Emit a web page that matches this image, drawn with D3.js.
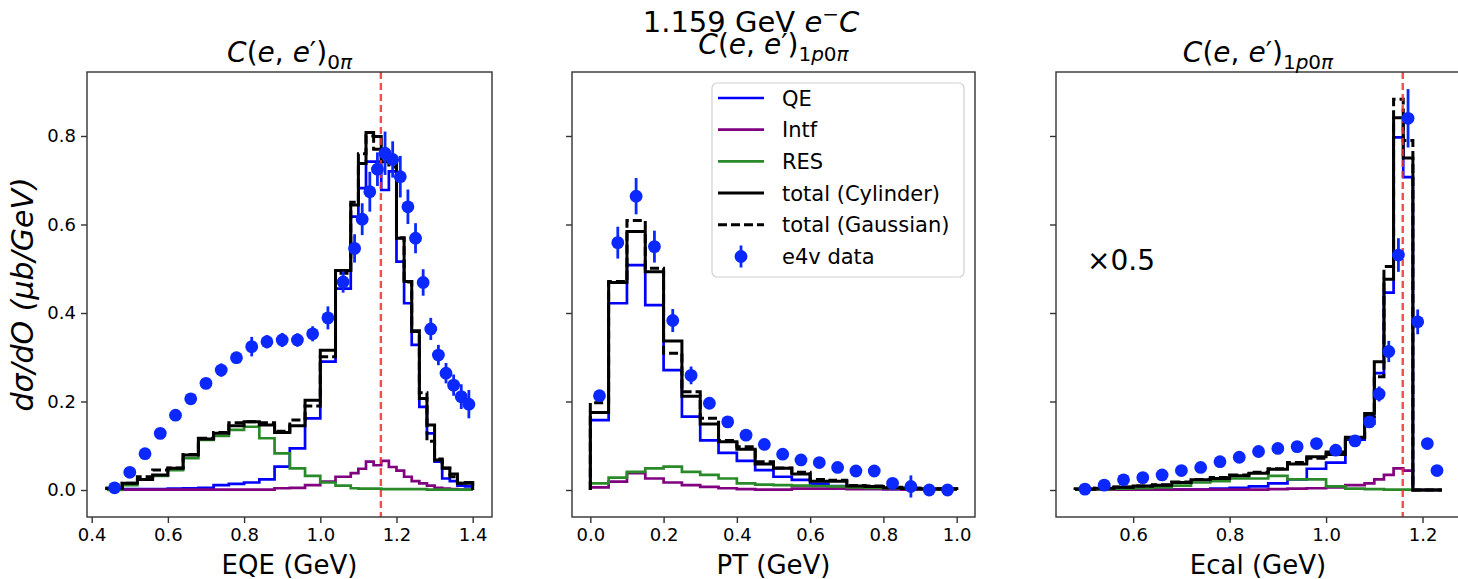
<!DOCTYPE html>
<html><head><meta charset="utf-8">
<script src="https://cdn.jsdelivr.net/npm/d3@7"></script>
<style>body{margin:0;background:#fff} svg{display:block} text{font-family:"DejaVu Sans",sans-serif;fill:#000}</style>
</head><body><svg id="c" width="1458" height="579"></svg>
<script>
// ---------- EQE panel ----------
const eqeEdges = [0.44,0.48,0.52,0.56,0.60,0.64,0.68,0.72,0.76,0.80,0.84,0.88,0.92,0.96,1.00,1.04,1.08,1.10,1.12,1.14,1.16,1.18,1.20,1.22,1.24,1.26,1.28,1.30,1.32,1.34,1.36,1.38,1.40];
const eqeQE   = [0.002,0.002,0.002,0.002,0.003,0.004,0.005,0.011,0.014,0.017,0.024,0.053,0.094,0.162,0.290,0.455,0.618,0.682,0.742,0.742,0.678,0.720,0.516,0.422,0.328,0.188,0.128,0.064,0.026,0.020,0.010,0.008];
const eqeIntf = [0.001,0.001,0.001,0.001,0.001,0.001,0.001,0.001,0.001,0.001,0.001,0.004,0.005,0.011,0.019,0.030,0.038,0.048,0.064,0.056,0.066,0.052,0.044,0.030,0.020,0.015,0.010,0.005,0.003,0.002,0.001,0.001];
const eqeRES  = [0.000,0.011,0.024,0.032,0.045,0.072,0.113,0.122,0.136,0.143,0.117,0.083,0.049,0.032,0.017,0.010,0.004,0.003,0.003,0.003,0.002,0.002,0.002,0.002,0.002,0.002,0.001,0.001,0.001,0.001,0.001,0.001];
const eqeCyl  = [0.004,0.015,0.024,0.034,0.049,0.079,0.115,0.128,0.145,0.154,0.147,0.130,0.145,0.203,0.316,0.496,0.644,0.738,0.808,0.799,0.742,0.744,0.569,0.471,0.358,0.207,0.147,0.068,0.049,0.036,0.015,0.017];
const eqeGau  = [0.004,0.015,0.030,0.045,0.050,0.080,0.117,0.130,0.152,0.154,0.152,0.133,0.158,0.190,0.301,0.490,0.650,0.760,0.800,0.770,0.750,0.730,0.570,0.470,0.360,0.220,0.110,0.070,0.050,0.030,0.015,0.015];
const eqeX    = [0.46,0.50,0.54,0.58,0.62,0.66,0.70,0.74,0.78,0.82,0.86,0.90,0.94,0.98,1.02,1.06,1.09,1.11,1.13,1.15,1.17,1.19,1.21,1.23,1.25,1.27,1.29,1.31,1.33,1.35,1.37,1.39];
const eqeData = [0.005,0.040,0.082,0.128,0.169,0.206,0.241,0.271,0.299,0.324,0.335,0.339,0.339,0.353,0.389,0.470,0.546,0.612,0.674,0.725,0.761,0.747,0.708,0.640,0.569,0.469,0.364,0.305,0.264,0.237,0.211,0.194];
const eqeErr  = [0.004,0.005,0.006,0.007,0.008,0.009,0.011,0.015,0.013,0.022,0.015,0.016,0.015,0.017,0.026,0.024,0.032,0.036,0.045,0.038,0.049,0.041,0.047,0.039,0.034,0.030,0.025,0.023,0.023,0.024,0.028,0.032];

// ---------- PT panel ----------
const ptEdges = [0.00,0.05,0.10,0.15,0.20,0.25,0.30,0.35,0.40,0.45,0.50,0.55,0.60,0.65,0.70,0.75,0.80,0.85,0.90,0.95,1.00];
const ptQE    = [0.158,0.422,0.508,0.418,0.271,0.166,0.112,0.084,0.066,0.045,0.030,0.023,0.014,0.009,0.004,0.003,0.002,0.002,0.001,0.001];
const ptIntf  = [0.006,0.019,0.038,0.026,0.017,0.011,0.007,0.004,0.002,0.001,0.001,0.003,0.003,0.003,0.002,0.002,0.002,0.001,0.001,0.001];
const ptRES   = [0.015,0.028,0.041,0.049,0.053,0.041,0.034,0.026,0.015,0.012,0.011,0.010,0.009,0.008,0.006,0.005,0.004,0.003,0.002,0.002];
const ptCyl   = [0.175,0.469,0.584,0.493,0.337,0.212,0.149,0.109,0.092,0.059,0.049,0.036,0.020,0.020,0.009,0.008,0.005,0.004,0.003,0.003];
const ptGau   = [0.197,0.471,0.609,0.501,0.309,0.222,0.162,0.112,0.098,0.064,0.050,0.040,0.024,0.022,0.010,0.009,0.006,0.004,0.003,0.003];
const ptX     = [0.025,0.075,0.125,0.175,0.225,0.275,0.325,0.375,0.425,0.475,0.525,0.575,0.625,0.675,0.725,0.775,0.825,0.875,0.925,0.975];
const ptData  = [0.213,0.559,0.664,0.550,0.383,0.259,0.196,0.154,0.124,0.103,0.081,0.068,0.062,0.051,0.043,0.043,0.015,0.008,0.000,0.000];
const ptErr   = [0.012,0.036,0.041,0.036,0.026,0.020,0.013,0.010,0.008,0.007,0.006,0.006,0.006,0.006,0.006,0.006,0.008,0.025,0.005,0.005];

// ---------- Ecal panel ----------
const ecalEdges = [0.48,0.52,0.56,0.60,0.64,0.68,0.72,0.76,0.80,0.84,0.88,0.92,0.96,1.00,1.04,1.08,1.10,1.12,1.14,1.16,1.18,1.20,1.22,1.24];
const ecalQE    = [0.001,0.001,0.001,0.001,0.001,0.001,0.001,0.003,0.005,0.008,0.015,0.024,0.048,0.062,0.114,0.150,0.264,0.446,0.797,0.707,0,0,0];
const ecalIntf  = [0.001,0.001,0.001,0.001,0.001,0.001,0.001,0.001,0.001,0.001,0.002,0.003,0.004,0.006,0.011,0.015,0.024,0.034,0.049,0.044,0,0,0];
const ecalRES   = [0.001,0.002,0.003,0.004,0.006,0.010,0.017,0.020,0.026,0.026,0.032,0.024,0.024,0.008,0.003,0.002,0.002,0.001,0.001,0.001,0,0,0];
const ecalCyl   = [0.002,0.004,0.006,0.009,0.011,0.017,0.023,0.026,0.032,0.038,0.047,0.059,0.075,0.080,0.119,0.173,0.290,0.476,0.841,0.750,0,0,0];
const ecalGau   = [0.002,0.004,0.007,0.009,0.012,0.018,0.024,0.028,0.034,0.040,0.048,0.062,0.072,0.086,0.118,0.166,0.256,0.505,0.883,0.790,0,0,0];
const ecalX     = [0.50,0.54,0.58,0.62,0.66,0.70,0.74,0.78,0.82,0.86,0.90,0.94,0.98,1.02,1.06,1.09,1.11,1.13,1.15,1.17,1.19,1.21,1.23];
const ecalData  = [0.002,0.011,0.023,0.028,0.034,0.044,0.051,0.064,0.074,0.087,0.094,0.098,0.105,0.090,0.111,0.154,0.217,0.313,0.531,0.840,0.380,0.105,0.044];
const ecalErr   = [0.004,0.004,0.004,0.005,0.005,0.005,0.005,0.006,0.006,0.006,0.006,0.006,0.007,0.008,0.008,0.012,0.017,0.024,0.038,0.066,0.028,0.006,0.005];

const yTicks = [0.0,0.2,0.4,0.6,0.8];
const eqeTicks = [0.4,0.6,0.8,1.0,1.2,1.4];
const ptTicks = [0.0,0.2,0.4,0.6,0.8,1.0];
const ecalTicks = [0.6,0.8,1.0,1.2];
const beamE = 1.159;
const legendLabels = ["QE","Intf","RES","total (Cylinder)","total (Gaussian)","e4v data"];

const C = {qe:"#0000ff", intf:"#800080", res:"#2a8a2a", tot:"#000000", data:"#0a28ff", ref:"#f03030"};

const svg = d3.select("#c");
const Y0 = 72, Y1 = 517;
const y = d3.scaleLinear().domain([-0.061, 0.9446]).range([Y1, Y0]);
const f1 = d3.format(".1f");

const panels = [
  {x0:87,  x1:492,  dom:[0.3877,1.4507], ticks:eqeTicks,  label:"EQE (GeV)",  edges:eqeEdges,  qe:eqeQE,  intf:eqeIntf,  res:eqeRES,  cyl:eqeCyl,  gau:eqeGau,  dx:eqeX,  dv:eqeData,  de:eqeErr,  ref:true,  yl:true,  sub:[["0",0],["π",1]], tY:62},
  {x0:572, x1:975,  dom:[-0.05,1.05],   ticks:ptTicks,   label:"PT (GeV)",   edges:ptEdges,   qe:ptQE,   intf:ptIntf,   res:ptRES,   cyl:ptCyl,   gau:ptGau,   dx:ptX,   dv:ptData,   de:ptErr,   ref:false, yl:false, sub:[["1",0],["p",1],["0",0],["π",1]], tY:54},
  {x0:1056,x1:1460, dom:[0.44,1.2777],  ticks:ecalTicks, label:"Ecal (GeV)", edges:ecalEdges, qe:ecalQE, intf:ecalIntf, res:ecalRES, cyl:ecalCyl, gau:ecalGau, dx:ecalX, dv:ecalData, de:ecalErr, ref:true,  yl:false, sub:[["1",0],["p",1],["0",0],["π",1]], tY:62}
];

function stepPts(edges, vals){
  const pts = [[edges[0],0]];
  vals.forEach((v,i)=>{ pts.push([edges[i],v]); pts.push([edges[i+1],v]); });
  pts.push([edges[edges.length-1],0]);
  return pts;
}

panels.forEach((p,pi)=>{
  const x = d3.scaleLinear().domain(p.dom).range([p.x0,p.x1]);
  const g = svg.append("g");
  const clipId = "clip"+pi;
  svg.append("clipPath").attr("id",clipId).append("rect").attr("x",p.x0).attr("y",Y0).attr("width",p.x1-p.x0).attr("height",Y1-Y0);
  const plot = g.append("g").attr("clip-path",`url(#${clipId})`);
  const line = d3.line().x(d=>x(d[0])).y(d=>y(d[1]));
  const series = [
    {v:p.qe, c:C.qe, w:2.7},
    {v:p.intf, c:C.intf, w:2.7},
    {v:p.res, c:C.res, w:2.7},
    {v:p.cyl, c:C.tot, w:3.0},
    {v:p.gau, c:C.tot, w:3.0, dash:"9,4"}
  ];
  series.forEach(s=>{
    plot.append("path").attr("d", line(stepPts(p.edges, s.v))).attr("fill","none")
      .attr("stroke", s.c).attr("stroke-width", s.w).attr("stroke-linejoin","miter")
      .attr("stroke-dasharray", s.dash||null);
  });
  if(p.ref){
    plot.append("line").attr("x1",x(beamE)).attr("x2",x(beamE)).attr("y1",Y0).attr("y2",Y1)
      .attr("stroke",C.ref).attr("stroke-width",2.4).attr("stroke-dasharray","7,4").attr("opacity",0.85);
  }
  // data
  const dg = plot.append("g");
  p.dx.forEach((xv,i)=>{
    dg.append("line").attr("x1",x(xv)).attr("x2",x(xv)).attr("y1",y(p.dv[i]-p.de[i])).attr("y2",y(p.dv[i]+p.de[i]))
      .attr("stroke",C.data).attr("stroke-width",2.8);
    dg.append("circle").attr("cx",x(xv)).attr("cy",y(p.dv[i])).attr("r",6.4).attr("fill",C.data);
  });
  // frame
  g.append("rect").attr("x",p.x0).attr("y",Y0).attr("width",p.x1-p.x0).attr("height",Y1-Y0)
    .attr("fill","none").attr("stroke","#333").attr("stroke-width",1.4);
  // x axis
  const xa = g.append("g").attr("transform",`translate(0,${Y1})`)
    .call(d3.axisBottom(x).tickValues(p.ticks).tickFormat(f1).tickSize(6).tickPadding(5));
  xa.select(".domain").remove();
  xa.selectAll("line").attr("stroke","#333").attr("stroke-width",1.4);
  xa.selectAll("text").attr("font-size",18).attr("font-family","DejaVu Sans").attr("fill","#000");
  // y axis
  const ya = g.append("g").attr("transform",`translate(${p.x0},0)`)
    .call(d3.axisLeft(y).tickValues(yTicks).tickFormat(p.yl?f1:"").tickSize(6).tickPadding(5));
  ya.select(".domain").remove();
  ya.selectAll("line").attr("stroke","#333").attr("stroke-width",1.4);
  ya.selectAll("text").attr("font-size",18).attr("font-family","DejaVu Sans").attr("fill","#000");
  // x label
  g.append("text").attr("x",(p.x0+p.x1)/2).attr("y",574).attr("text-anchor","middle").attr("font-size",26).text(p.label);
  // title
  const t = g.append("text").attr("x",(p.x0+p.x1)/2).attr("y",p.tY).attr("text-anchor","middle").attr("font-size",28);
  t.append("tspan").attr("font-style","italic").text("C");
  t.append("tspan").text("(");
  t.append("tspan").attr("font-style","italic").text("e");
  t.append("tspan").text(", ");
  t.append("tspan").attr("font-style","italic").text("e");
  t.append("tspan").text("′)");
  p.sub.forEach((s,k)=>{
    const ts = t.append("tspan").attr("font-size",20).attr("font-style", s[1]?"italic":"normal").text(s[0]);
    if(k===0) ts.attr("dy",7);
  });
});

// suptitle
const st = svg.append("text").attr("x",751).attr("y",32).attr("text-anchor","middle").attr("font-size",29);
st.append("tspan").text("1.159 GeV ");
st.append("tspan").attr("font-style","italic").text("e");
st.append("tspan").attr("font-size",20).attr("dy",-11).text("−");
st.append("tspan").attr("font-style","italic").attr("dy",11).text("C");

// y label
svg.append("text").attr("transform","translate(33,294.5) rotate(-90)").attr("text-anchor","middle")
  .attr("font-size",30).attr("font-style","italic").text("dσ/dO (μb/GeV)");

// x0.5 note
svg.append("text").attr("x",1087).attr("y",270).attr("font-size",28).text("×0.5");

// legend
const lg = svg.append("g");
lg.append("rect").attr("x",712).attr("y",83).attr("width",252).attr("height",194).attr("rx",5)
  .attr("fill","#fff").attr("fill-opacity",0.85).attr("stroke","#d0d0d0").attr("stroke-width",1.2);
const lcol = [C.qe, C.intf, C.res, C.tot, C.tot, C.data];
legendLabels.forEach((lab,i)=>{
  const yy = 98 + i*31.7;
  if(i<5){
    lg.append("line").attr("x1",718).attr("x2",764).attr("y1",yy).attr("y2",yy)
      .attr("stroke",lcol[i]).attr("stroke-width",i>=3?3.0:2.7).attr("stroke-dasharray", i===4?"9,4":null);
  } else {
    lg.append("line").attr("x1",741).attr("x2",741).attr("y1",yy-11).attr("y2",yy+11).attr("stroke",C.data).attr("stroke-width",2.8);
    lg.append("circle").attr("cx",741).attr("cy",yy).attr("r",6.4).attr("fill",C.data);
  }
  lg.append("text").attr("x",782).attr("y",yy+7.5).attr("font-size",21).text(lab);
});
</script></body></html>
